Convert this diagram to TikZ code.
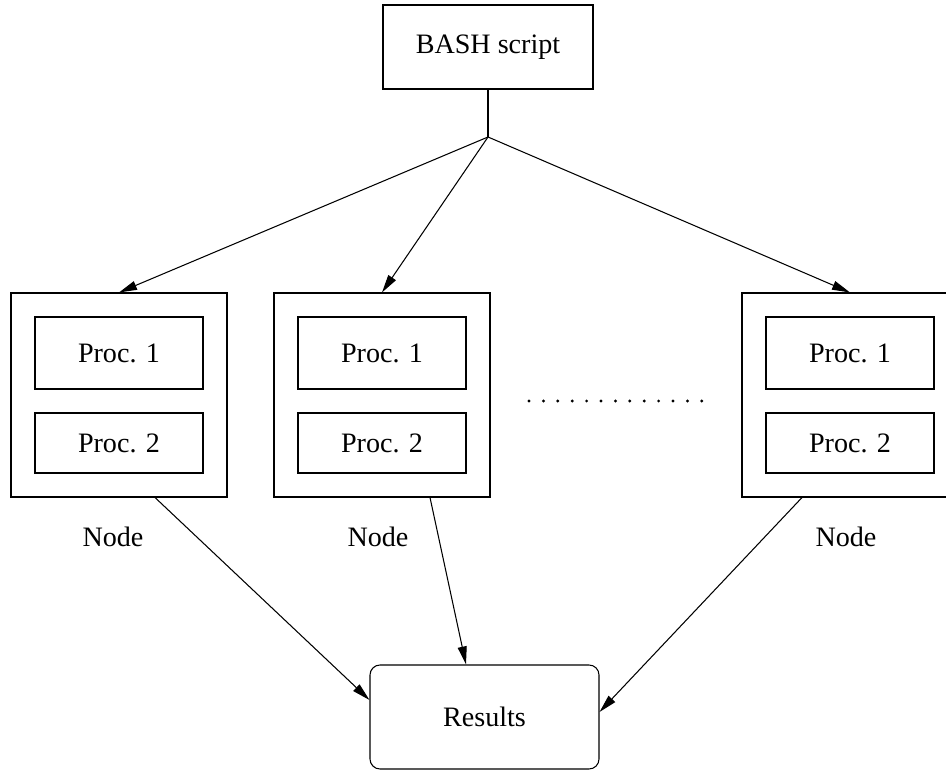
\documentclass[tikz,border=0pt]{standalone}
\usepackage{fontspec}
\setmainfont{Liberation Serif}
\usetikzlibrary{arrows.meta, positioning}

\begin{document}
\begin{tikzpicture}[
    line width=0.6pt,
    font=\fontsize{16}{19}\selectfont,
    hostbox/.style={rectangle, draw, minimum width=4.32cm, minimum height=4.08cm},
    procbox/.style={rectangle, draw, minimum width=3.36cm},
    arr/.style={-{Triangle[length=0.36cm, width=0.18cm]}}
]
    \clip (0, 0) rectangle (18.92, 15.42);

    % script
    \node[rectangle, draw, minimum width=4.2cm, minimum height=1.68cm] (bash) at (9.76, 14.48) {BASH script};
    \coordinate (split) at (9.76, 12.68);
    \draw (bash.south) -- (split);

    % nodes
    \node[hostbox] (n1) at (2.38, 7.52) {};
    \node[hostbox] (n2) at (7.64, 7.52) {};
    \node[hostbox] (n3) at (17.0, 7.52) {};

    \node[procbox, minimum height=1.44cm] (p11) at (2.38, 8.36) {Proc. 1};
    \node[procbox, minimum height=1.2cm] (p12) at (2.38, 6.56) {Proc. 2};
    \node[procbox, minimum height=1.44cm] (p21) at (7.64, 8.36) {Proc. 1};
    \node[procbox, minimum height=1.2cm] (p22) at (7.64, 6.56) {Proc. 2};
    \node[procbox, minimum height=1.44cm] (p31) at (17.0, 8.36) {Proc. 1};
    \node[procbox, minimum height=1.2cm] (p32) at (17.0, 6.56) {Proc. 2};

    \node (l1) at (2.26, 4.68) {Node};
    \node (l2) at (7.56, 4.68) {Node};
    \node (l3) at (16.92, 4.68) {Node};

    \foreach \i in {0,...,12}
        \fill (10.58+0.288*\i, 7.4) circle (0.032);

    % results
    \node[rectangle, draw, rounded corners=0.2cm, minimum width=4.58cm, minimum height=2.08cm] (res) at (9.69, 1.08) {Results};

    \draw[arr] (split) -- (n1.north);
    \draw[arr] (split) -- (n2.north);
    \draw[arr] (split) -- (n3.north);

    \draw[arr] ([xshift=0.72cm]n1.south) -- ([yshift=0.34cm]res.west);
    \draw[arr] ([xshift=0.96cm]n2.south) -- ([xshift=-0.37cm]res.north);
    \draw[arr] ([xshift=-0.96cm]n3.south) -- ([yshift=0.1cm]res.east);
\end{tikzpicture}
\end{document}
